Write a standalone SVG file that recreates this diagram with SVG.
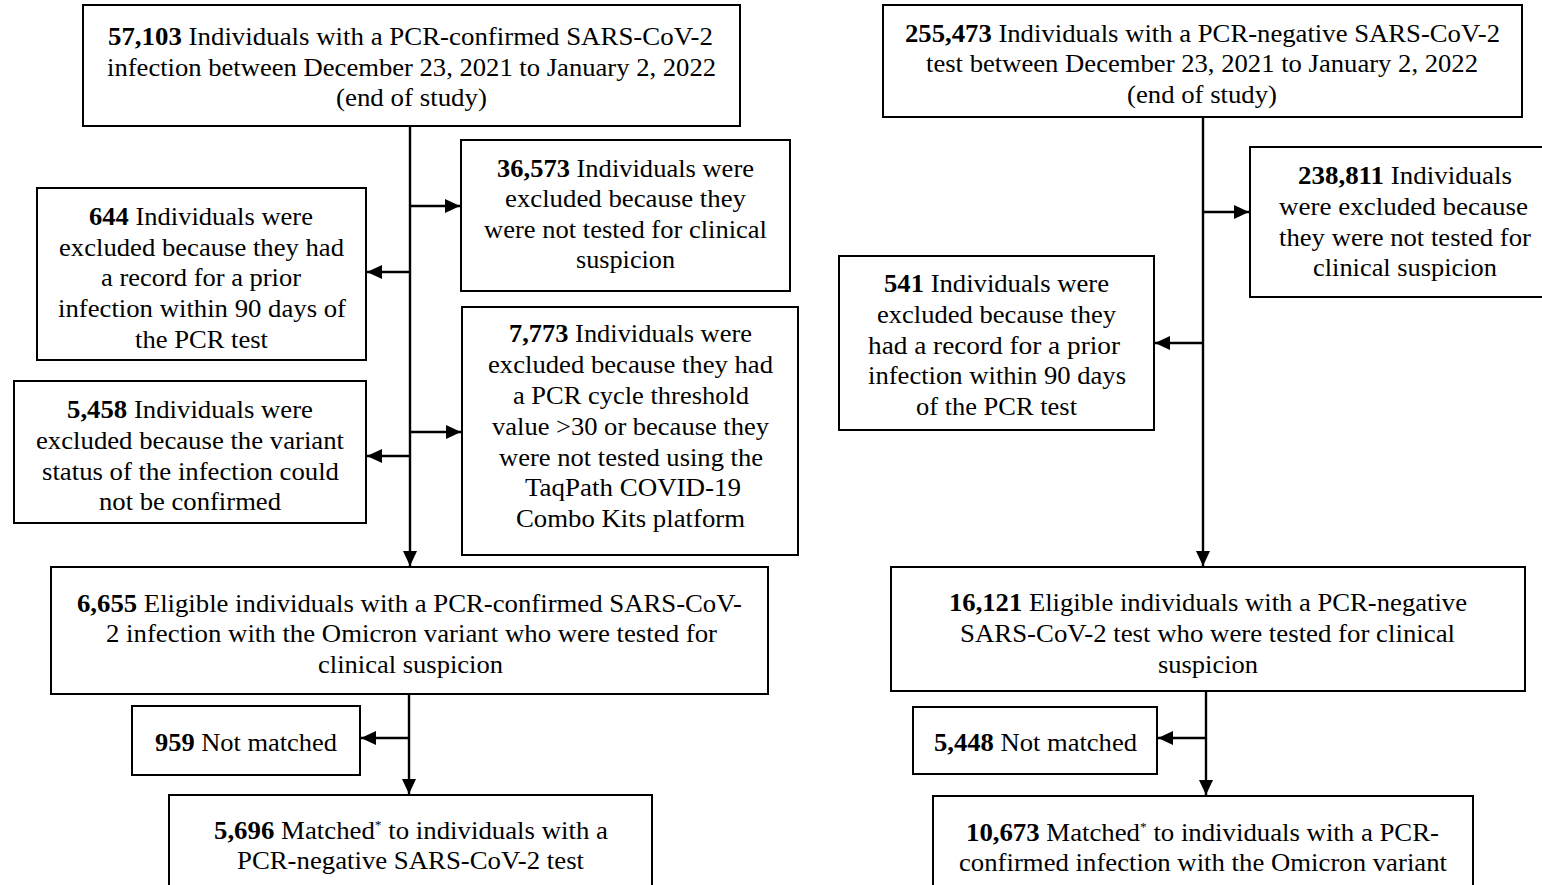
<svg xmlns="http://www.w3.org/2000/svg" width="1542" height="885" viewBox="0 0 1542 885">
<style>
.box{fill:#fff;stroke:#000;stroke-width:2}
text{font-family:"Liberation Serif","Times New Roman",serif;font-size:26px;fill:#000;text-anchor:start}
.b{font-weight:bold}
.sup{font-size:13px}
.conn line{stroke:#000;stroke-width:2.4}
</style>
<defs>
<marker id="ah" markerUnits="userSpaceOnUse" markerWidth="16" markerHeight="16" refX="15" refY="8" orient="auto">
<path d="M0,1 L15,8 L0,15 Z" fill="#000"/>
</marker>
</defs>
<rect width="1542" height="885" fill="#fff"/>
<g class="conn">
<line x1="410" y1="126" x2="410" y2="566" marker-end="url(#ah)"/>
<line x1="410" y1="206" x2="460" y2="206" marker-end="url(#ah)"/>
<line x1="410" y1="272" x2="367" y2="272" marker-end="url(#ah)"/>
<line x1="410" y1="432" x2="461" y2="432" marker-end="url(#ah)"/>
<line x1="410" y1="456" x2="367" y2="456" marker-end="url(#ah)"/>
<line x1="409" y1="694" x2="409" y2="794" marker-end="url(#ah)"/>
<line x1="409" y1="738" x2="361" y2="738" marker-end="url(#ah)"/>
<line x1="1203" y1="117" x2="1203" y2="566" marker-end="url(#ah)"/>
<line x1="1203" y1="212" x2="1249" y2="212" marker-end="url(#ah)"/>
<line x1="1203" y1="343" x2="1155" y2="343" marker-end="url(#ah)"/>
<line x1="1206" y1="691" x2="1206" y2="795" marker-end="url(#ah)"/>
<line x1="1206" y1="738" x2="1158" y2="738" marker-end="url(#ah)"/>
</g>
<g id="n1">
<rect class="box" x="83" y="5" width="657" height="121"/>
<text x="108" y="45" textLength="605" lengthAdjust="spacingAndGlyphs"><tspan class="b">57,103</tspan> Individuals with a PCR-confirmed SARS-CoV-2</text>
<text x="107" y="76" textLength="609" lengthAdjust="spacingAndGlyphs">infection between December 23, 2021 to January 2, 2022</text>
<text x="336" y="106" textLength="151" lengthAdjust="spacingAndGlyphs">(end of study)</text>
</g>
<g id="n2">
<rect class="box" x="461" y="140" width="329" height="151"/>
<text x="497" y="177" textLength="257" lengthAdjust="spacingAndGlyphs"><tspan class="b">36,573</tspan> Individuals were</text>
<text x="505" y="207" textLength="241" lengthAdjust="spacingAndGlyphs">excluded because they</text>
<text x="484" y="238" textLength="283" lengthAdjust="spacingAndGlyphs">were not tested for clinical</text>
<text x="576" y="268" textLength="99" lengthAdjust="spacingAndGlyphs">suspicion</text>
</g>
<g id="n3">
<rect class="box" x="37" y="188" width="329" height="172"/>
<text x="89" y="225" textLength="224" lengthAdjust="spacingAndGlyphs"><tspan class="b">644</tspan> Individuals were</text>
<text x="59" y="256" textLength="285" lengthAdjust="spacingAndGlyphs">excluded because they had</text>
<text x="101" y="286" textLength="200" lengthAdjust="spacingAndGlyphs">a record for a prior</text>
<text x="58" y="317" textLength="288" lengthAdjust="spacingAndGlyphs">infection within 90 days of</text>
<text x="135" y="348" textLength="133" lengthAdjust="spacingAndGlyphs">the PCR test</text>
</g>
<g id="n4">
<rect class="box" x="462" y="307" width="336" height="248"/>
<text x="509" y="342" textLength="243" lengthAdjust="spacingAndGlyphs"><tspan class="b">7,773</tspan> Individuals were</text>
<text x="488" y="373" textLength="285" lengthAdjust="spacingAndGlyphs">excluded because they had</text>
<text x="513" y="404" textLength="236" lengthAdjust="spacingAndGlyphs">a PCR cycle threshold</text>
<text x="492" y="435" textLength="277" lengthAdjust="spacingAndGlyphs">value &gt;30 or because they</text>
<text x="499" y="466" textLength="264" lengthAdjust="spacingAndGlyphs">were not tested using the</text>
<text x="525" y="496" textLength="216" lengthAdjust="spacingAndGlyphs">TaqPath COVID-19</text>
<text x="516" y="527" textLength="229" lengthAdjust="spacingAndGlyphs">Combo Kits platform</text>
</g>
<g id="n5">
<rect class="box" x="14" y="381" width="352" height="142"/>
<text x="67" y="418" textLength="246" lengthAdjust="spacingAndGlyphs"><tspan class="b">5,458</tspan> Individuals were</text>
<text x="36" y="449" textLength="308" lengthAdjust="spacingAndGlyphs">excluded because the variant</text>
<text x="42" y="480" textLength="297" lengthAdjust="spacingAndGlyphs">status of the infection could</text>
<text x="99" y="510" textLength="182" lengthAdjust="spacingAndGlyphs">not be confirmed</text>
</g>
<g id="n6">
<rect class="box" x="51" y="567" width="717" height="127"/>
<text x="77" y="612" textLength="665" lengthAdjust="spacingAndGlyphs"><tspan class="b">6,655</tspan> Eligible individuals with a PCR-confirmed SARS-CoV-</text>
<text x="106" y="642" textLength="611" lengthAdjust="spacingAndGlyphs">2 infection with the Omicron variant who were tested for</text>
<text x="318" y="673" textLength="185" lengthAdjust="spacingAndGlyphs">clinical suspicion</text>
</g>
<g id="n7">
<rect class="box" x="132" y="706" width="228" height="69"/>
<text x="155" y="751" textLength="182" lengthAdjust="spacingAndGlyphs"><tspan class="b">959</tspan> Not matched</text>
</g>
<g id="n8">
<rect class="box" x="169" y="795" width="483" height="100"/>
<text x="214" y="839" textLength="394" lengthAdjust="spacingAndGlyphs"><tspan class="b">5,696</tspan> Matched<tspan class="sup" baseline-shift="10">*</tspan> to individuals with a</text>
<text x="237" y="869" textLength="347" lengthAdjust="spacingAndGlyphs">PCR-negative SARS-CoV-2 test</text>
</g>
<g id="n9">
<rect class="box" x="883" y="5" width="639" height="112"/>
<text x="905" y="42" textLength="595" lengthAdjust="spacingAndGlyphs"><tspan class="b">255,473</tspan> Individuals with a PCR-negative SARS-CoV-2</text>
<text x="926" y="72" textLength="552" lengthAdjust="spacingAndGlyphs">test between December 23, 2021 to January 2, 2022</text>
<text x="1127" y="103" textLength="150" lengthAdjust="spacingAndGlyphs">(end of study)</text>
</g>
<g id="n10">
<rect class="box" x="1250" y="147" width="300" height="150"/>
<text x="1298" y="184" textLength="214" lengthAdjust="spacingAndGlyphs"><tspan class="b">238,811</tspan> Individuals</text>
<text x="1279" y="215" textLength="249" lengthAdjust="spacingAndGlyphs">were excluded because</text>
<text x="1279" y="246" textLength="252" lengthAdjust="spacingAndGlyphs">they were not tested for</text>
<text x="1313" y="276" textLength="184" lengthAdjust="spacingAndGlyphs">clinical suspicion</text>
</g>
<g id="n11">
<rect class="box" x="839" y="256" width="315" height="174"/>
<text x="884" y="292" textLength="225" lengthAdjust="spacingAndGlyphs"><tspan class="b">541</tspan> Individuals were</text>
<text x="877" y="323" textLength="239" lengthAdjust="spacingAndGlyphs">excluded because they</text>
<text x="868" y="354" textLength="252" lengthAdjust="spacingAndGlyphs">had a record for a prior</text>
<text x="868" y="384" textLength="258" lengthAdjust="spacingAndGlyphs">infection within 90 days</text>
<text x="916" y="415" textLength="161" lengthAdjust="spacingAndGlyphs">of the PCR test</text>
</g>
<g id="n12">
<rect class="box" x="891" y="567" width="634" height="124"/>
<text x="949" y="611" textLength="518" lengthAdjust="spacingAndGlyphs"><tspan class="b">16,121</tspan> Eligible individuals with a PCR-negative</text>
<text x="960" y="642" textLength="495" lengthAdjust="spacingAndGlyphs">SARS-CoV-2 test who were tested for clinical</text>
<text x="1158" y="673" textLength="100" lengthAdjust="spacingAndGlyphs">suspicion</text>
</g>
<g id="n13">
<rect class="box" x="913" y="707" width="244" height="67"/>
<text x="934" y="751" textLength="203" lengthAdjust="spacingAndGlyphs"><tspan class="b">5,448</tspan> Not matched</text>
</g>
<g id="n14">
<rect class="box" x="933" y="796" width="540" height="100"/>
<text x="966" y="841" textLength="473" lengthAdjust="spacingAndGlyphs"><tspan class="b">10,673</tspan> Matched<tspan class="sup" baseline-shift="10">*</tspan> to individuals with a PCR-</text>
<text x="959" y="871" textLength="488" lengthAdjust="spacingAndGlyphs">confirmed infection with the Omicron variant</text>
</g>
</svg>
